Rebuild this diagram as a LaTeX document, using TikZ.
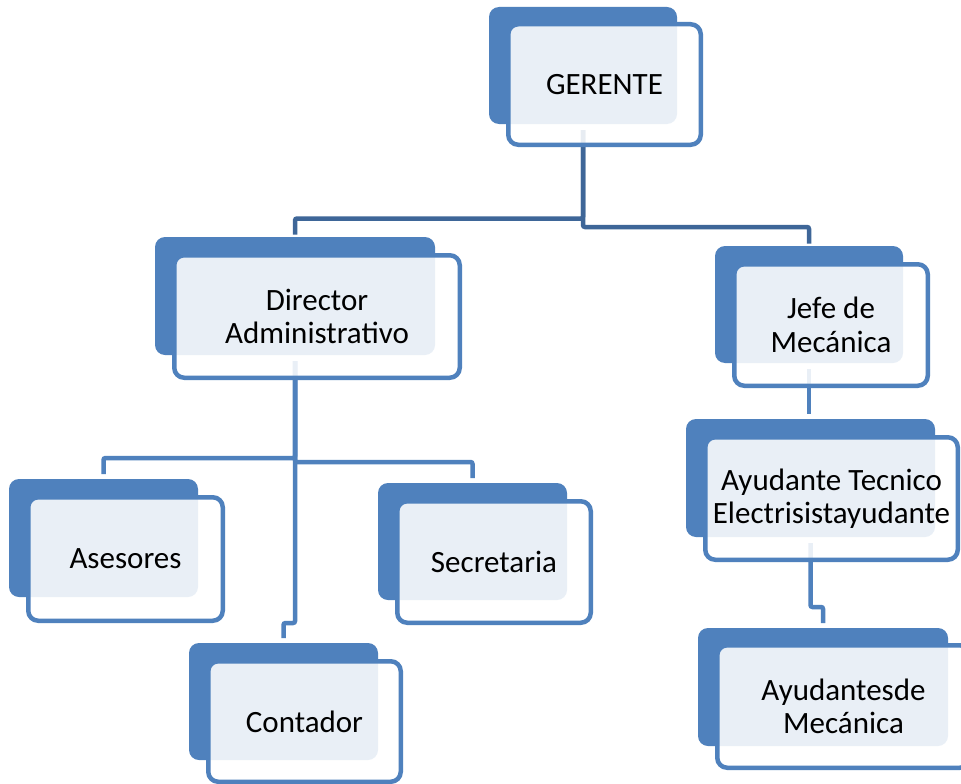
\documentclass[tikz,border=0pt]{standalone}
\usepackage{fontspec}
\setmainfont{Carlito}
\usetikzlibrary{backgrounds}

\definecolor{accent}{HTML}{4F81BD}
\definecolor{accentdark}{HTML}{3E6698}

\tikzset{
  backbox/.style 2 args={fill=accent, draw=none, rounded corners=10pt,
    inner sep=0pt, outer sep=0pt, minimum width=#1pt, minimum height=#2pt},
  frontbox/.style 2 args={draw=accent, line width=4.5pt, fill=white,
    fill opacity=0.88, text opacity=1, rounded corners=10pt,
    inner sep=0pt, outer sep=0pt, minimum width=#1pt, minimum height=#2pt,
    align=center, font=\fontsize{31}{33.5}\selectfont},
  link/.style={draw=accent, line width=4.5pt, rounded corners=2pt,
    shorten <=6pt, shorten >=5pt},
  toplink/.style={draw=accentdark, shorten >=2.5pt},
}

\begin{document}
\begin{tikzpicture}[x=1pt, y=-1pt]
  \clip (0,0) rectangle (961,784);

  % GERENTE
  \node[backbox={188}{117}] (gerB) at (583,65.5) {};
  \node[frontbox={192.5}{120.5}] (gerF) at (604.5,84.5) {GERENTE};

  % Director Administrativo
  \node[backbox={280}{118}] (dirB) at (295,296) {};
  \node[frontbox={285.5}{122.5}] (dirF) at (317,316.5) {Director\\Administrativo};

  % Jefe de Mecánica
  \node[backbox={188}{117}] (jefB) at (809,304.5) {};
  \node[frontbox={193.5}{121.5}] (jefF) at (831,325) {Jefe de\\Mecánica};

  % Asesores
  \node[backbox={189}{118}] (asB) at (103.5,538) {};
  \node[frontbox={194.5}{123.5}] (asF) at (125.5,559) {Asesores};

  % Secretaria
  \node[backbox={189}{117}] (secB) at (472.5,541.5) {};
  \node[frontbox={193.5}{121.5}] (secF) at (494,562) {Secretaria};

  % Contador
  \node[backbox={189}{117}] (conB) at (283.5,701.5) {};
  \node[frontbox={192.5}{120.5}] (conF) at (304.5,721.5) {Contador};

  % Ayudante Tecnico
  \node[backbox={249}{118}] (atB) at (810.5,478) {};
  \node[frontbox={252.5}{122.5}] (atF) at (831.5,498.5) {Ayudante Tecnico\\Electrisistayudante};

  % Ayudantes de Mecánica
  \node[backbox={250}{118}] (amB) at (823,687) {};
  \node[frontbox={252.5}{122.5}] (amF) at (843.5,706.5) {Ayudantesde\\Mecánica};

  % bus levels of the connectors
  \coordinate (busL) at (0,218.5);
  \coordinate (busR) at (0,227);
  \coordinate (busA) at (0,458);
  \coordinate (busS) at (0,462);
  \coordinate (jogC) at (0,623);
  \coordinate (jogM) at (0,607);

  \begin{scope}[on background layer]
    \fill[white] (0,0) rectangle (961,784);
    \draw[link,toplink] (gerB.south) |- (busL -| dirB.north) -- (dirB.north);
    \draw[link,toplink] (gerB.south) |- (busR -| jefB.north) -- (jefB.north);
    \draw[link] (dirB.south) |- (busA -| asB.north) -- (asB.north);
    \draw[link] (dirB.south) |- (busS -| secB.north) -- (secB.north);
    \draw[link] (dirB.south) |- (jogC -| conB.north) -- (conB.north);
    \draw[link] (jefB.south) -- (jefB.south |- atB.north);
    \draw[link] (atB.south) |- (jogM -| amB.north) -- (amB.north);
  \end{scope}
\end{tikzpicture}
\end{document}
